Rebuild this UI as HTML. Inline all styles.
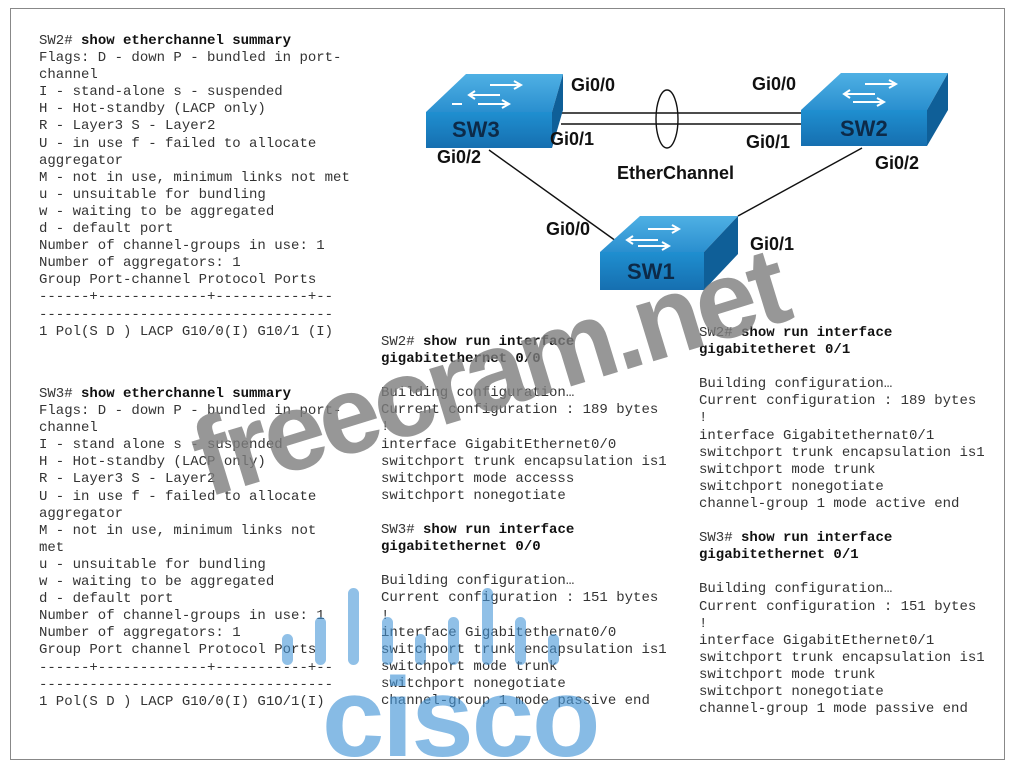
<!DOCTYPE html>
<html><head><meta charset="utf-8"><style>
html,body{margin:0;padding:0;background:#fff;}
body{width:1017px;height:763px;position:relative;overflow:hidden;}
.frame{position:absolute;left:10px;top:8px;width:995px;height:752px;border:1px solid #888;box-sizing:border-box;}
pre{position:absolute;margin:0;font-family:"Liberation Mono",monospace;font-size:14px;line-height:17.1px;color:#333;}
pre b{font-weight:bold;color:#111;}
.lbl{position:absolute;font-family:"Liberation Sans",sans-serif;font-weight:bold;font-size:18px;color:#111;line-height:20px;white-space:nowrap;}
.wm{position:absolute;left:212px;top:405px;font-family:"Liberation Sans",sans-serif;font-weight:bold;font-size:110px;line-height:110px;letter-spacing:-4px;color:rgba(125,125,125,0.8);transform:rotate(-17deg);transform-origin:0 100%;white-space:nowrap;}
.cisco{position:absolute;left:322px;top:668px;font-family:"Liberation Sans",sans-serif;font-weight:bold;font-size:112px;color:rgba(70,150,215,0.65);line-height:100px;letter-spacing:-2px;}
.bar{position:absolute;width:11px;border-radius:6px;background:rgba(70,150,215,0.6);}
</style></head><body>
<div class="frame"></div>

<pre style="left:39px;top:33px;">SW2# <b>show etherchannel summary</b>
Flags: D - down P - bundled in port-
channel
I - stand-alone s - suspended
H - Hot-standby (LACP only)
R - Layer3 S - Layer2
U - in use f - failed to allocate
aggregator
M - not in use, minimum links not met
u - unsuitable for bundling
w - waiting to be aggregated
d - default port
Number of channel-groups in use: 1
Number of aggregators: 1
Group Port-channel Protocol Ports
------+-------------+-----------+--
-----------------------------------
1 Pol(S D ) LACP G10/0(I) G10/1 (I)</pre>

<pre style="left:39px;top:386px;">SW3# <b>show etherchannel summary</b>
Flags: D - down P - bundled in port-
channel
I - stand alone s - suspended
H - Hot-standby (LACP only)
R - Layer3 S - Layer2
U - in use f - failed to allocate
aggregator
M - not in use, minimum links not
met
u - unsuitable for bundling
w - waiting to be aggregated
d - default port
Number of channel-groups in use: 1
Number of aggregators: 1
Group Port channel Protocol Ports
------+-------------+-----------+--
-----------------------------------
1 Pol(S D ) LACP G10/0(I) G1O/1(I)</pre>

<pre style="left:381px;top:334px;">SW2# <b>show run interface
gigabitethernet 0/0</b>

Building configuration…
Current configuration : 189 bytes
!
interface GigabitEthernet0/0
switchport trunk encapsulation is1
switchport mode accesss
switchport nonegotiate

SW3# <b>show run interface
gigabitethernet 0/0</b>

Building configuration…
Current configuration : 151 bytes
!
interface Gigabitethernat0/0
switchport trunk encapsulation is1
switchport mode trunk
switchport nonegotiate
channel-group 1 mode passive end</pre>

<pre style="left:699px;top:325px;">SW2# <b>show run interface
gigabitetheret 0/1</b>

Building configuration…
Current configuration : 189 bytes
!
interface Gigabitethernat0/1
switchport trunk encapsulation is1
switchport mode trunk
switchport nonegotiate
channel-group 1 mode active end

SW3# <b>show run interface
gigabitethernet 0/1</b>

Building configuration…
Current configuration : 151 bytes
!
interface GigabitEthernet0/1
switchport trunk encapsulation is1
switchport mode trunk
switchport nonegotiate
channel-group 1 mode passive end</pre>

<svg style="position:absolute;left:0;top:0" width="1017" height="763">
<defs>
<linearGradient id="tg" x1="0" y1="0" x2="0" y2="1"><stop offset="0" stop-color="#4fb0e4"/><stop offset="1" stop-color="#2a8fcf"/></linearGradient>
<linearGradient id="fg" x1="0" y1="0" x2="0" y2="1"><stop offset="0" stop-color="#1f8fd0"/><stop offset="1" stop-color="#166fb0"/></linearGradient>
</defs>
<g stroke="#111" stroke-width="1.4" fill="none">
<line x1="561" y1="113" x2="810" y2="113"/>
<line x1="561" y1="124" x2="810" y2="124"/>
<line x1="489" y1="150" x2="616" y2="241"/>
<line x1="862" y1="148" x2="738" y2="216"/>
<ellipse cx="667" cy="119" rx="11" ry="29"/>
</g>
<polygon points="426,112 466,74 563,74 552,112" fill="url(#tg)"/>
<polygon points="552,112 563,74 563,110 552,148" fill="#0f5f98"/>
<rect x="426" y="112" width="126" height="36" fill="url(#fg)"/>
<polygon points="801,110 841,73 948,73 927,110" fill="url(#tg)"/>
<polygon points="927,110 948,73 948,110 927,146" fill="#0f5f98"/>
<rect x="801" y="110" width="126" height="36" fill="url(#fg)"/>
<polygon points="600,252 640,216 738,216 704,252" fill="url(#tg)"/>
<polygon points="704,252 738,216 738,254 704,290" fill="#0f5f98"/>
<rect x="600" y="252" width="104" height="38" fill="url(#fg)"/>
<g stroke="#fff" stroke-width="2" fill="none">
<path d="M470 95 L500 95 M475 91 L469 95 L475 99 M490 85 L520 85 M514 81 L521 85 L514 89 M478 104 L508 104 M502 100 L509 104 L502 108 M462 104 L452 104"/>
<path d="M845 94 L875 94 M850 90 L844 94 L850 98 M865 84 L895 84 M889 80 L896 84 L889 88 M853 102 L883 102 M877 98 L884 102 L877 106"/>
<path d="M628 240 L658 240 M633 236 L627 240 L633 244 M648 229 L678 229 M672 225 L679 229 L672 233 M638 246 L668 246 M662 242 L669 246 L662 250"/>
</g>
<g font-family="Liberation Sans,sans-serif" font-weight="bold" font-size="22" fill="#0d2a48">
<text x="452" y="137">SW3</text>
<text x="840" y="136">SW2</text>
<text x="627" y="279">SW1</text>
</g>
</svg>

<div class="lbl" style="left:571px;top:75px;">Gi0/0</div>
<div class="lbl" style="left:752px;top:74px;">Gi0/0</div>
<div class="lbl" style="left:550px;top:129px;">Gi0/1</div>
<div class="lbl" style="left:746px;top:132px;">Gi0/1</div>
<div class="lbl" style="left:437px;top:147px;">Gi0/2</div>
<div class="lbl" style="left:875px;top:153px;">Gi0/2</div>
<div class="lbl" style="left:617px;top:163px;">EtherChannel</div>
<div class="lbl" style="left:546px;top:219px;">Gi0/0</div>
<div class="lbl" style="left:750px;top:234px;">Gi0/1</div>

<div class="wm">freecram.net</div>

<div class="bar" style="left:282px;top:634px;height:31px"></div>
<div class="bar" style="left:315px;top:617px;height:48px"></div>
<div class="bar" style="left:348px;top:588px;height:77px"></div>
<div class="bar" style="left:382px;top:617px;height:48px"></div>
<div class="bar" style="left:415px;top:634px;height:31px"></div>
<div class="bar" style="left:448px;top:617px;height:48px"></div>
<div class="bar" style="left:482px;top:588px;height:77px"></div>
<div class="bar" style="left:515px;top:617px;height:48px"></div>
<div class="bar" style="left:548px;top:634px;height:31px"></div>
<div class="cisco">cisco</div>
</body></html>
